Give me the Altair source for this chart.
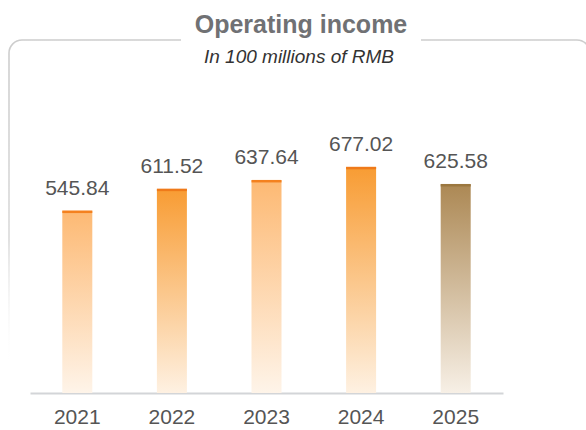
import altair as alt
import pandas as pd

years = ["2021", "2022", "2023", "2024", "2025"]
income = [545.84, 611.52, 637.64, 677.02, 625.58]
tones = ["light", "dark", "light", "dark", "brown"]

tone_names = ["light", "dark", "brown"]
tone_top = ["#FDB973", "#F89C33", "#AC8854"]
tone_bottom = ["#FEF4E9", "#FEF1E2", "#F7F0E6"]
tone_cap = ["#F4811F", "#EF7A1A", "#9B773F"]

df = pd.DataFrame({"year": years, "income": income, "tone": tones})

W, H = 473, 267
LEFT, TOP = 30, 126

x_enc = alt.X(
    "year:N",
    sort=years,
    title=None,
    scale=alt.Scale(paddingInner=0.683, paddingOuter=0.3415),
    axis=alt.Axis(
        labelAngle=0,
        labelFont="Liberation Sans",
        labelFontSize=21,
        labelColor="#555555",
        labelPadding=13,
        ticks=False,
        domainColor="#D3D5D8",
        domainWidth=2,
        grid=False,
    ),
)
y_scale = alt.Scale(domain=[0, 800])
y_enc = alt.Y("income:Q", scale=y_scale, axis=None)

base = alt.Chart(df)


def gradient(top, bottom):
    return {
        "gradient": "linear",
        "x1": 0, "y1": 0, "x2": 0, "y2": 1,
        "stops": [
            {"offset": 0, "color": top},
            {"offset": 1, "color": bottom},
        ],
    }


bars = [
    base.transform_filter(alt.datum.tone == name)
    .mark_bar(size=30)
    .encode(x=x_enc, y=y_enc, color=alt.value(gradient(top, bot)))
    for name, top, bot in zip(tone_names, tone_top, tone_bottom)
]

caps = base.mark_tick(size=30, thickness=2.5, yOffset=1, opacity=1).encode(
    x=x_enc,
    y=y_enc,
    color=alt.Color("tone:N", scale=alt.Scale(domain=tone_names, range=tone_cap), legend=None),
)

values = base.mark_text(
    font="Liberation Sans", fontSize=21, color="#555555", baseline="alphabetic", dy=-16
).encode(x=x_enc, y=y_enc, text=alt.Text("income:Q", format=".2f"))

# Frame around the panel: rounded outline that fades out toward the bottom
frame = alt.Chart(pd.DataFrame({"k": [0]})).mark_rect(
    cornerRadius=13,
    fillOpacity=0,
    strokeWidth=1.6,
    stroke={
        "gradient": "linear",
        "x1": 0, "y1": 0, "x2": 0, "y2": 1,
        "stops": [
            {"offset": 0, "color": "#CDCDCD"},
            {"offset": 0.6, "color": "#DADADA"},
            {"offset": 1, "color": "rgba(255,255,255,0)"},
        ],
    },
).encode(
    x=alt.value(9 - LEFT), x2=alt.value(590 - LEFT),
    y=alt.value(40 - TOP), y2=alt.value(372 - TOP),
)

# White gap in the frame's top edge behind the heading
gap = alt.Chart(pd.DataFrame({"k": [0]})).mark_rect(color="white").encode(
    x=alt.value(181 - LEFT), x2=alt.value(421 - LEFT),
    y=alt.value(34 - TOP), y2=alt.value(46 - TOP),
)

heading = alt.Chart(pd.DataFrame({"t": ["Operating income"]})).mark_text(
    font="Liberation Sans", fontSize=25, fontWeight="bold", color="#707174",
    align="center", baseline="alphabetic",
).encode(text="t:N", x=alt.value(301 - LEFT), y=alt.value(33 - TOP))

subheading = alt.Chart(pd.DataFrame({"t": ["In 100 millions of RMB"]})).mark_text(
    font="Liberation Sans", fontSize=19, fontStyle="italic", color="#333333",
    align="center", baseline="alphabetic",
).encode(text="t:N", x=alt.value(299 - LEFT), y=alt.value(63 - TOP))

chart = (
    alt.layer(frame, gap, heading, subheading, *bars, caps, values)
    .properties(
        width=W,
        height=H,
        autosize=alt.AutoSizeParams(type="none"),
        padding={"left": LEFT, "top": TOP, "right": 586 - LEFT - W, "bottom": 430 - TOP - H},
        background="white",
    )
    .configure_view(stroke=None)
)

chart.save("out.html", embed_options={"renderer": "svg", "actions": False})
